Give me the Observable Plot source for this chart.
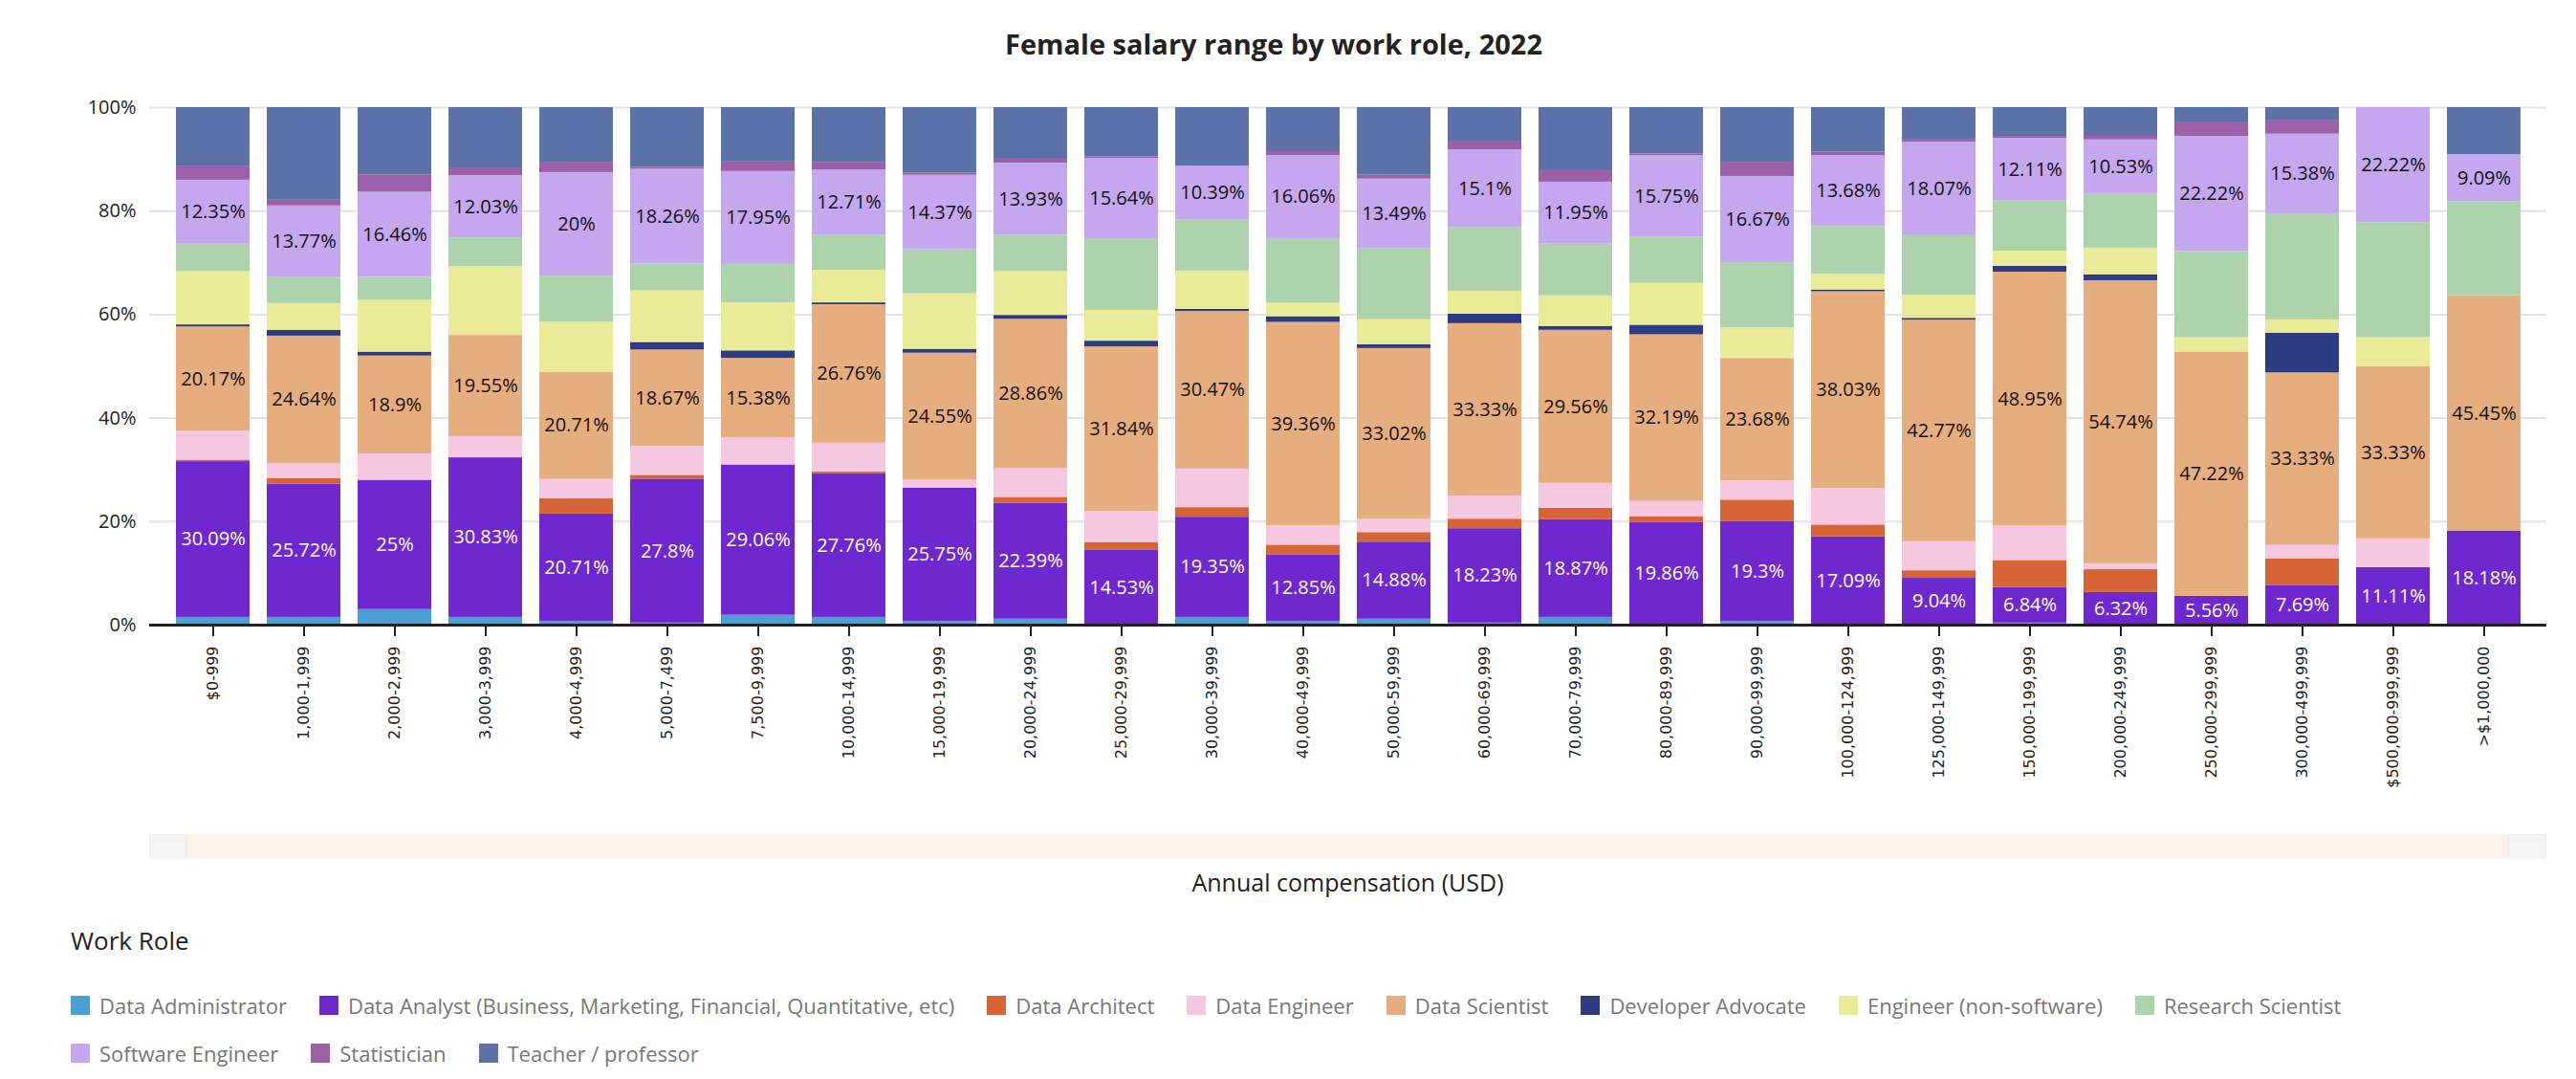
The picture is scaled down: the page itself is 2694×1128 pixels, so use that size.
<!DOCTYPE html>
<html><head><meta charset="utf-8">
<script src="https://cdn.jsdelivr.net/npm/d3@7"></script>
<script src="https://cdn.jsdelivr.net/npm/@observablehq/plot@0.6"></script>
<style>
body{margin:0;background:#fff;font-family:"Open Sans",sans-serif;width:2694px;}
#title{height:90px;display:flex;align-items:center;justify-content:center;font-size:29px;font-weight:700;color:#222;padding-right:30px;box-sizing:border-box;}
#scroll{position:absolute;left:156px;top:872px;width:2507px;height:26px;background:#fdf3ea;}
#scroll .h{position:absolute;top:0;width:40px;height:26px;background:#f4f4f4;border:1px solid #eee;box-sizing:border-box;}
#xt{position:absolute;left:156px;width:2507px;top:905px;text-align:center;font-size:25px;color:#222;}
#lt{position:absolute;left:74px;top:965px;font-size:26px;color:#222;}
.row{position:absolute;left:74px;display:flex;gap:34px;font-size:22px;color:#777;}
.it{display:flex;align-items:center;gap:10px;}
.sw{width:20px;height:20px;display:inline-block;}
</style></head><body>
<div id="title">Female salary range by work role, 2022</div>
<div id="chart"></div>
<div id="scroll"><div class="h" style="left:0"></div><div class="h" style="right:0"></div></div>
<div id="xt">Annual compensation (USD)</div>
<div id="lt">Work Role</div>
<div class="row" id="r1" style="top:1036px"></div>
<div class="row" id="r2" style="top:1086px"></div>
<script>
const categories = ["$0-999","1,000-1,999","2,000-2,999","3,000-3,999","4,000-4,999","5,000-7,499","7,500-9,999","10,000-14,999","15,000-19,999","20,000-24,999","25,000-29,999","30,000-39,999","40,000-49,999","50,000-59,999","60,000-69,999","70,000-79,999","80,000-89,999","90,000-99,999","100,000-124,999","125,000-149,999","150,000-199,999","200,000-249,999","250,000-299,999","300,000-499,999","$500,000-999,999",">$1,000,000"];
const roles = ["Data Administrator","Data Analyst (Business, Marketing, Financial, Quantitative, etc)","Data Architect","Data Engineer","Data Scientist","Developer Advocate","Engineer (non-software)","Research Scientist","Software Engineer","Statistician","Teacher / professor"];
const colors = ["#4a9fd4","#6f27d0","#d66434","#f5c7e0","#e6ad7f","#2d3c82","#e9eb97","#add3ad","#c4a7ee","#9d5fa7","#5b72a8"];
const admin = [1.5,1.5,3.0,1.5,0.75,0.4,1.9,1.5,0.75,1.15,0,1.5,0.75,1.15,0.4,1.5,0,0.75,0,0,0.4,0,0,0,0,0];
const analyst = [30.09,25.72,25,30.83,20.71,27.8,29.06,27.76,25.75,22.39,14.53,19.35,12.85,14.88,18.23,18.87,19.86,19.3,17.09,9.04,6.84,6.32,5.56,7.69,11.11,18.18];
const architect = [0.31,1.1,0,0,3.0,0.75,0,0.35,0,1.15,1.45,1.85,1.85,1.85,1.85,2.2,1.1,4.1,2.25,1.45,5.2,4.4,0,5.13,0,0];
const engineer = [5.55,2.9,5.1,4.1,3.7,5.55,5.2,5.55,1.5,5.55,5.95,7.45,3.7,2.55,4.45,4.8,2.95,3.7,7.05,5.6,6.65,1.15,0,2.56,5.56,0];
const scientist = [20.17,24.64,18.9,19.55,20.71,18.67,15.38,26.76,24.55,28.86,31.84,30.47,39.36,33.02,33.33,29.56,32.19,23.68,38.03,42.77,48.95,54.74,47.22,33.33,33.33,45.45];
const devAdvocate = [0.4,1.1,0.75,0,0,1.45,1.45,0.35,0.75,0.75,1.1,0.4,1.1,0.75,1.85,0.75,1.85,0,0.35,0.35,1.1,1.15,0,7.69,0,0];
const engNonSw = [10.3,5.2,10.0,13.3,9.65,10.0,9.25,6.3,10.75,8.5,5.95,7.4,2.6,4.8,4.4,5.9,8.1,5.9,3.0,4.45,2.95,5.15,2.78,2.56,5.56,0];
const research = [5.3,5.1,4.45,5.55,8.9,5.2,7.45,6.7,8.5,7.0,13.7,9.9,12.5,13.7,12.25,10.0,8.9,12.6,9.25,11.5,9.65,10.4,16.67,20.51,22.22,18.18];
const swe = [12.35,13.77,16.46,12.03,20,18.26,17.95,12.71,14.37,13.93,15.64,10.39,16.06,13.49,15.1,11.95,15.75,16.67,13.68,18.07,12.11,10.53,22.22,15.38,22.22,9.09];
const statistician = [2.6,1.1,3.35,1.5,1.85,0.4,1.85,1.45,0.4,0.75,0.35,0,0.75,0.75,1.5,2.2,0.35,2.6,0.7,0.4,0.35,0.7,2.78,2.56,0,0];
const teacher = [11.43,17.9,12.99,11.64,10.7,11.52,10.5,10.57,12.68,9.97,9.49,11.29,8.5,13.06,6.64,12.2,8.95,10.7,8.6,6.25,5.55,5.55,2.78,2.56,0,9.09];
const series = [admin,analyst,architect,engineer,scientist,devAdvocate,engNonSw,research,swe,statistician,teacher];
const labeled = new Set([roles[1],roles[4],roles[8]]);

const data = [];
categories.forEach((c,i)=>series.forEach((s,j)=>data.push({cat:c,role:roles[j],value:s[i]})));

const st = (o)=>Plot.stackY({x:"cat",y:"value",z:"role",order:roles,offset:"normalize",...o});
const chart = Plot.plot({
  width:2694,height:760,marginTop:22,marginBottom:197,marginLeft:156,marginRight:31,
  style:{fontFamily:"Open Sans, sans-serif",background:"#fff"},
  x:{domain:categories,padding:0.19,label:null},
  y:{domain:[0,1],label:null},
  color:{domain:roles,range:colors},
  marks:[
    Plot.gridY([0,.2,.4,.6,.8,1],{stroke:"#e3e3e3",strokeOpacity:1,strokeWidth:2}),
    Plot.axisY([0,.2,.4,.6,.8,1],{tickSize:0,tickPadding:14,tickFormat:d=>Math.round(d*100)+"%",fontSize:20,fill:"#222",label:null}),
    Plot.barY(data,st({fill:"role"})),
    Plot.text(data,st({text:d=>labeled.has(d.role)&&d.value>0?d.value+"%":null,fill:d=>d.role===roles[1]?"#fff":"#111",fontSize:20})),
    Plot.ruleY([0],{stroke:"#222",strokeWidth:3}),
    Plot.axisX({tickRotate:-90,tickSize:12,tickPadding:10,fontSize:16,fontFamily:"DejaVu Sans",fill:"#222",stroke:"#222",strokeWidth:2,label:null})
  ]
});
// band boundary ticks like reference
document.getElementById("chart").append(chart);

const mk = (id,list)=>{const el=document.getElementById(id);list.forEach(j=>{const d=document.createElement("div");d.className="it";d.innerHTML=`<span class="sw" style="background:${colors[j]}"></span><span>${roles[j]}</span>`;el.append(d);});};
mk("r1",[0,1,2,3,4,5,6,7]);
mk("r2",[8,9,10]);
</script></body></html>
